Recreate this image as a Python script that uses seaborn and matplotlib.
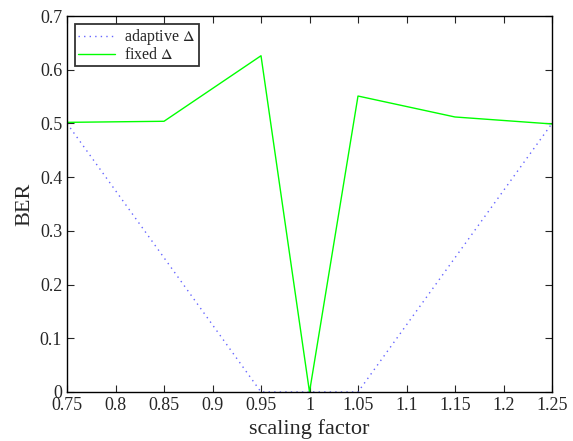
import matplotlib
matplotlib.use("Agg")
import matplotlib.pyplot as plt
import seaborn as sns
import pandas as pd

scaling = [0.75, 0.85, 0.95, 1.0, 1.05, 1.15, 1.25]
adaptive = [0.5, 0.25, 0.0, 0.0, 0.0, 0.25, 0.5]
fixed = [0.502, 0.504, 0.626, 0.0, 0.551, 0.512, 0.499]
xticks = [0.75, 0.8, 0.85, 0.9, 0.95, 1.0, 1.05, 1.1, 1.15, 1.2, 1.25]
xticklabels = ["0.75", "0.8", "0.85", "0.9", "0.95", "1", "1.05", "1.1", "1.15", "1.2", "1.25"]
yticks = [0, 0.1, 0.2, 0.3, 0.4, 0.5, 0.6, 0.7]
yticklabels = ["0", "0.1", "0.2", "0.3", "0.4", "0.5", "0.6", "0.7"]

sns.set_style("ticks")
plt.rcParams['font.family'] = ['Liberation Serif', 'DejaVu Serif']
plt.rcParams['mathtext.fontset'] = 'stix'

df = pd.DataFrame({"x": scaling, "adaptive": adaptive, "fixed": fixed})

fig = plt.figure(figsize=(5.73, 4.41), dpi=100)
ax = fig.add_axes([67/573, 1-392/441, (552-67)/573, (392-16)/441])

sns.lineplot(data=df, x="x", y="adaptive", ax=ax, color="#6666ff", linestyle=(0, (1, 3)),
             linewidth=1.0, label="adaptive $\\Delta$")
sns.lineplot(data=df, x="x", y="fixed", ax=ax, color="#00ff00", linestyle="-",
             linewidth=1.0, label="fixed $\\Delta$")

ax.set_xlim(0.75, 1.25)
ax.set_ylim(0, 0.7)
ax.set_xticks(xticks)
ax.set_xticklabels(xticklabels)
ax.set_yticks(yticks)
ax.set_yticklabels(yticklabels)
ax.tick_params(direction="in", top=True, right=True, labelsize=13, length=5, width=0.8)
for s in ax.spines.values():
    s.set_visible(True)
    s.set_linewidth(1.0)
    s.set_color("black")
ax.set_xlabel("scaling factor", fontsize=16)
ax.set_ylabel("BER", fontsize=16)

leg = ax.legend(loc="upper left", fontsize=11.5, frameon=True, fancybox=False,
                handlelength=2.3, handletextpad=0.6, borderpad=0.2, labelspacing=0.0,
                borderaxespad=0.5)
leg.get_frame().set_edgecolor("black")
leg.get_frame().set_linewidth(1.3)

fig.savefig("out.png", dpi=100)
